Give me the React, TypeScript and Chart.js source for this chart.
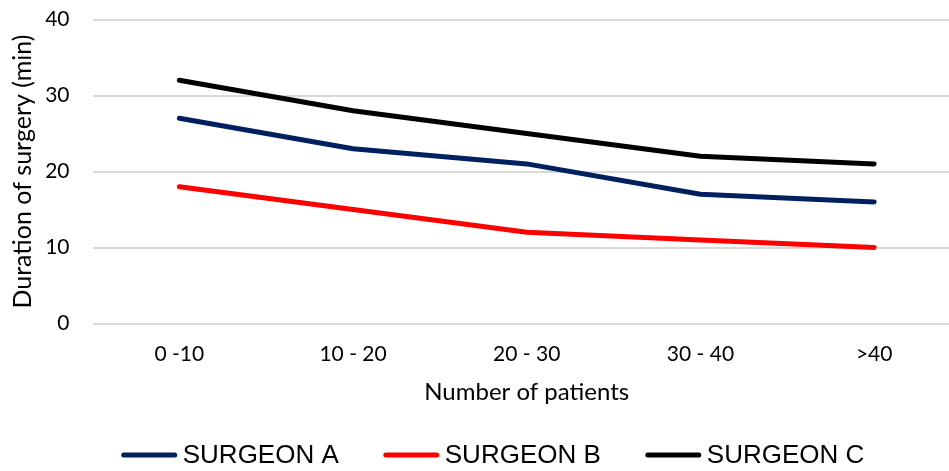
import React, { useEffect, useRef } from "react";
import { Chart, registerables } from "chart.js";

Chart.register(...registerables);

const categories = ["0 -10", "10 - 20", "20 - 30", "30 - 40", ">40"];
const surgeonA = [27, 23, 21, 17, 16];
const surgeonB = [18, 15, 12, 11, 10];
const surgeonC = [32, 28, 25, 22, 21];
const seriesLabels = ["SURGEON A", "SURGEON B", "SURGEON C"];
const seriesColors = ["#002060", "#FF0000", "#000000"];
const yTicks = [0, 10, 20, 30, 40];

const AXIS_FONT = "Lato, 'Open Sans', sans-serif";
const LEGEND_FONT = "26px 'Liberation Sans', Arial, sans-serif";
const LEGEND_CENTER_X = 493;
const LEGEND_Y = 455;

const legendPlugin = {
  id: "bottomLegend",
  afterDraw(chart: any) {
    const ctx = chart.ctx as CanvasRenderingContext2D;
    ctx.save();
    ctx.font = LEGEND_FONT;
    const items = chart.data.datasets.map((ds: any) => ({
      label: ds.label as string,
      color: ds.borderColor as string,
      w: ctx.measureText(ds.label).width,
    }));
    const lineLen = 55;
    const gap = 6;
    const spacing = 45;
    const total =
      items.reduce((s: number, it: any) => s + lineLen + gap + it.w, 0) +
      spacing * (items.length - 1);
    let x = LEGEND_CENTER_X - total / 2;
    const y = LEGEND_Y;
    ctx.textBaseline = "middle";
    ctx.textAlign = "left";
    for (const it of items) {
      ctx.beginPath();
      ctx.strokeStyle = it.color;
      ctx.lineWidth = 5;
      ctx.lineCap = "round";
      ctx.moveTo(x + 2, y);
      ctx.lineTo(x + lineLen - 2, y);
      ctx.stroke();
      ctx.fillStyle = "#000000";
      ctx.fillText(it.label, x + lineLen + gap, y + 1);
      x += lineLen + gap + it.w + spacing;
    }
    ctx.restore();
  },
};

export default function App() {
  const ref = useRef<HTMLCanvasElement | null>(null);

  useEffect(() => {
    if (!ref.current) return;
    const data = [surgeonA, surgeonB, surgeonC];
    const chart = new Chart(ref.current, {
      type: "line",
      data: {
        labels: categories,
        datasets: data.map((d, i) => ({
          label: seriesLabels[i],
          data: d,
          borderColor: seriesColors[i],
          backgroundColor: seriesColors[i],
          borderWidth: 5,
          pointRadius: 0,
          tension: 0,
          borderCapStyle: "round" as const,
          borderJoinStyle: "round" as const,
          fill: false,
        })),
      },
      options: {
        responsive: false,
        animation: false,
        layout: { padding: { top: 19.5, right: 0, bottom: 64.5, left: 8 } },
        plugins: {
          legend: { display: false },
          tooltip: { enabled: false },
        },
        scales: {
          x: {
            offset: true,
            afterFit: (scale: any) => {
              scale.paddingLeft = 0;
              scale.paddingRight = 0;
            },
            grid: { display: false, drawTicks: false },
            border: { display: false },
            ticks: {
              color: "#000000",
              font: { family: AXIS_FONT, size: 21 },
              padding: 18.5,
              maxRotation: 0,
            },
            title: {
              display: true,
              text: "Number of patients",
              color: "#000000",
              font: { family: AXIS_FONT, size: 24 },
              padding: { top: -8, bottom: 0 },
            },
          },
          y: {
            min: 0,
            max: 40,
            afterBuildTicks: (axis: any) => {
              axis.ticks = yTicks.map((v) => ({ value: v }));
            },
            afterFit: (scale: any) => {
              scale.paddingTop = 0;
              scale.paddingBottom = 0;
              scale.width = 84.5;
            },
            grid: { color: "#D9D9D9", lineWidth: 2, drawTicks: false },
            border: { display: false },
            ticks: {
              color: "#000000",
              font: { family: AXIS_FONT, size: 21 },
              padding: 23,
            },
            title: {
              display: true,
              text: "Duration of surgery (min)",
              color: "#000000",
              font: { family: AXIS_FONT, size: 25 },
              padding: { top: 0, bottom: 10 },
            },
          },
        },
      },
      plugins: [legendPlugin],
    });
    return () => chart.destroy();
  }, []);

  return (
    <div
      style={{
        position: "fixed",
        left: 0,
        top: 0,
        width: 949,
        height: 471,
        overflow: "hidden",
        background: "#ffffff",
      }}
    >
      <canvas ref={ref} width={961} height={471} style={{ display: "block" }} />
    </div>
  );
}
